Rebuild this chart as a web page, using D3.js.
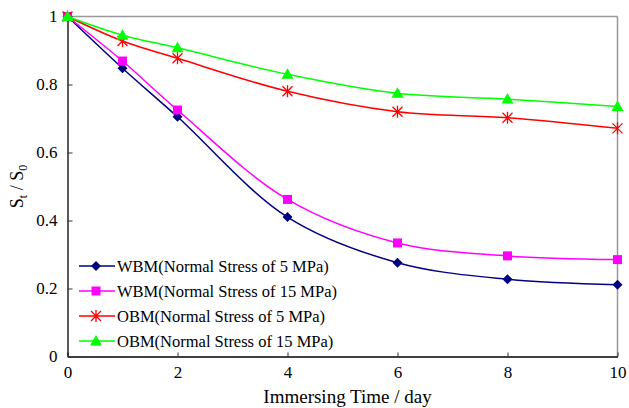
<!DOCTYPE html>
<html>
<head>
<meta charset="utf-8">
<script src="https://cdn.jsdelivr.net/npm/d3@7"></script>
<style>
  body { margin: 0; background: #fff; }
</style>
</head>
<body>
<div id="chart"></div>
<script>
// Immersing time (days)
const days = [0, 1, 2, 4, 6, 8, 10];

// St / S0 for each test
const wbm5  = [1, 0.848, 0.705, 0.410, 0.276, 0.227, 0.211];
const wbm15 = [1, 0.869, 0.725, 0.462, 0.334, 0.296, 0.285];
const obm5  = [1, 0.928, 0.877, 0.780, 0.720, 0.702, 0.671];
const obm15 = [1, 0.945, 0.908, 0.830, 0.774, 0.757, 0.735];

const seriesNames = [
    "WBM(Normal Stress of 5 MPa)",
    "WBM(Normal Stress of 15 MPa)",
    "OBM(Normal Stress of 5 MPa)",
    "OBM(Normal Stress of 15 MPa)"
];
const seriesValues = [wbm5, wbm15, obm5, obm15];
const seriesColors = ["#000080", "#ff00ff", "#ff0000", "#00ff00"];
const seriesMarkers = ["diamond", "square", "star", "triangle"];

const xTicks = [0, 2, 4, 6, 8, 10];
const yTicks = [0, 0.2, 0.4, 0.6, 0.8, 1];

const FONT = "'Liberation Serif', 'Times New Roman', Times, 'DejaVu Serif', serif";

const width = 629, height = 408;
const margin = { left: 67.5, right: 11.5, top: 16.5, bottom: 51.5 };

const svg = d3.select("#chart").append("svg")
    .attr("width", width)
    .attr("height", height)
    .style("font-family", FONT);

const x = d3.scaleLinear().domain([0, 10]).range([margin.left, width - margin.right]);
const y = d3.scaleLinear().domain([0, 1]).range([height - margin.bottom, margin.top]);

// grey frame on top and right
svg.append("line")
    .attr("x1", x(0)).attr("x2", x(10))
    .attr("y1", y(1)).attr("y2", y(1))
    .attr("stroke", "#999").attr("stroke-width", 1.5);
svg.append("line")
    .attr("x1", x(10)).attr("x2", x(10))
    .attr("y1", y(1)).attr("y2", y(0))
    .attr("stroke", "#999").attr("stroke-width", 1.5);

// axes
const xAxis = svg.append("g")
    .attr("transform", `translate(0,${y(0)})`)
    .call(d3.axisBottom(x).tickValues(xTicks).tickSizeInner(-4).tickSizeOuter(0).tickPadding(9));
const yAxis = svg.append("g")
    .attr("transform", `translate(${x(0)},0)`)
    .call(d3.axisLeft(y).tickValues(yTicks).tickFormat(d3.format("")).tickSizeInner(-5).tickSizeOuter(0).tickPadding(10));

[xAxis, yAxis].forEach(g => {
    g.attr("font-family", null).attr("font-size", null);
    g.select(".domain").attr("stroke", "#000").attr("stroke-width", 1.3);
    g.selectAll(".tick line").attr("stroke", "#333");
    g.selectAll(".tick text")
        .style("font-family", FONT)
        .style("font-size", "17px")
        .attr("fill", "#000");
});

// axis labels
svg.append("text")
    .attr("x", (x(0) + x(10)) / 2 + 5)
    .attr("y", 403)
    .attr("text-anchor", "middle")
    .style("font-size", "19px")
    .text("Immersing Time / day");

const yl = svg.append("text")
    .attr("transform", `translate(23,${y(0.5)}) rotate(-90)`)
    .attr("text-anchor", "middle")
    .style("font-size", "18px");
yl.append("tspan").text("S");
yl.append("tspan").attr("dy", 4).style("font-size", "12px").text("t");
yl.append("tspan").attr("dy", -4).text(" / S");
yl.append("tspan").attr("dy", 4).style("font-size", "12px").text("0");

// markers
function drawMarker(g, type, color, cx, cy) {
    if (type === "diamond") {
        g.append("path")
            .attr("d", `M${cx},${cy - 5}L${cx + 5},${cy}L${cx},${cy + 5}L${cx - 5},${cy}Z`)
            .attr("fill", color);
    } else if (type === "square") {
        g.append("rect")
            .attr("x", cx - 4.5).attr("y", cy - 4.5)
            .attr("width", 9).attr("height", 9)
            .attr("fill", color);
    } else if (type === "triangle") {
        g.append("path")
            .attr("d", `M${cx},${cy - 6}L${cx + 6},${cy + 4.5}L${cx - 6},${cy + 4.5}Z`)
            .attr("fill", color);
    } else {
        const r = 5;
        g.append("path")
            .attr("d", `M${cx - r},${cy - r}L${cx + r},${cy + r}M${cx - r},${cy + r}L${cx + r},${cy - r}M${cx},${cy - r - 1}L${cx},${cy + r + 1}`)
            .attr("stroke", color).attr("stroke-width", 1.3).attr("fill", "none");
    }
}

const line = d3.line()
    .x(d => x(d[0]))
    .y(d => y(d[1]))
    .curve(d3.curveCatmullRom.alpha(0.5));

seriesValues.forEach((vals, i) => {
    const pts = days.map((d, j) => [d, vals[j]]);
    const g = svg.append("g");
    g.append("path")
        .datum(pts)
        .attr("d", line)
        .attr("fill", "none")
        .attr("stroke", seriesColors[i])
        .attr("stroke-width", 1.5);
    pts.forEach(p => drawMarker(g, seriesMarkers[i], seriesColors[i], x(p[0]), y(p[1])));
});

// legend
const legendY = [266, 291, 316, 341];
seriesNames.forEach((name, i) => {
    const g = svg.append("g");
    g.append("line")
        .attr("x1", 79).attr("x2", 115)
        .attr("y1", legendY[i]).attr("y2", legendY[i])
        .attr("stroke", seriesColors[i]).attr("stroke-width", 1.5);
    drawMarker(g, seriesMarkers[i], seriesColors[i], 96, legendY[i]);
    g.append("text")
        .attr("x", 117)
        .attr("y", legendY[i] + 5.5)
        .style("font-size", "16.5px")
        .text(name);
});
</script>
</body>
</html>
